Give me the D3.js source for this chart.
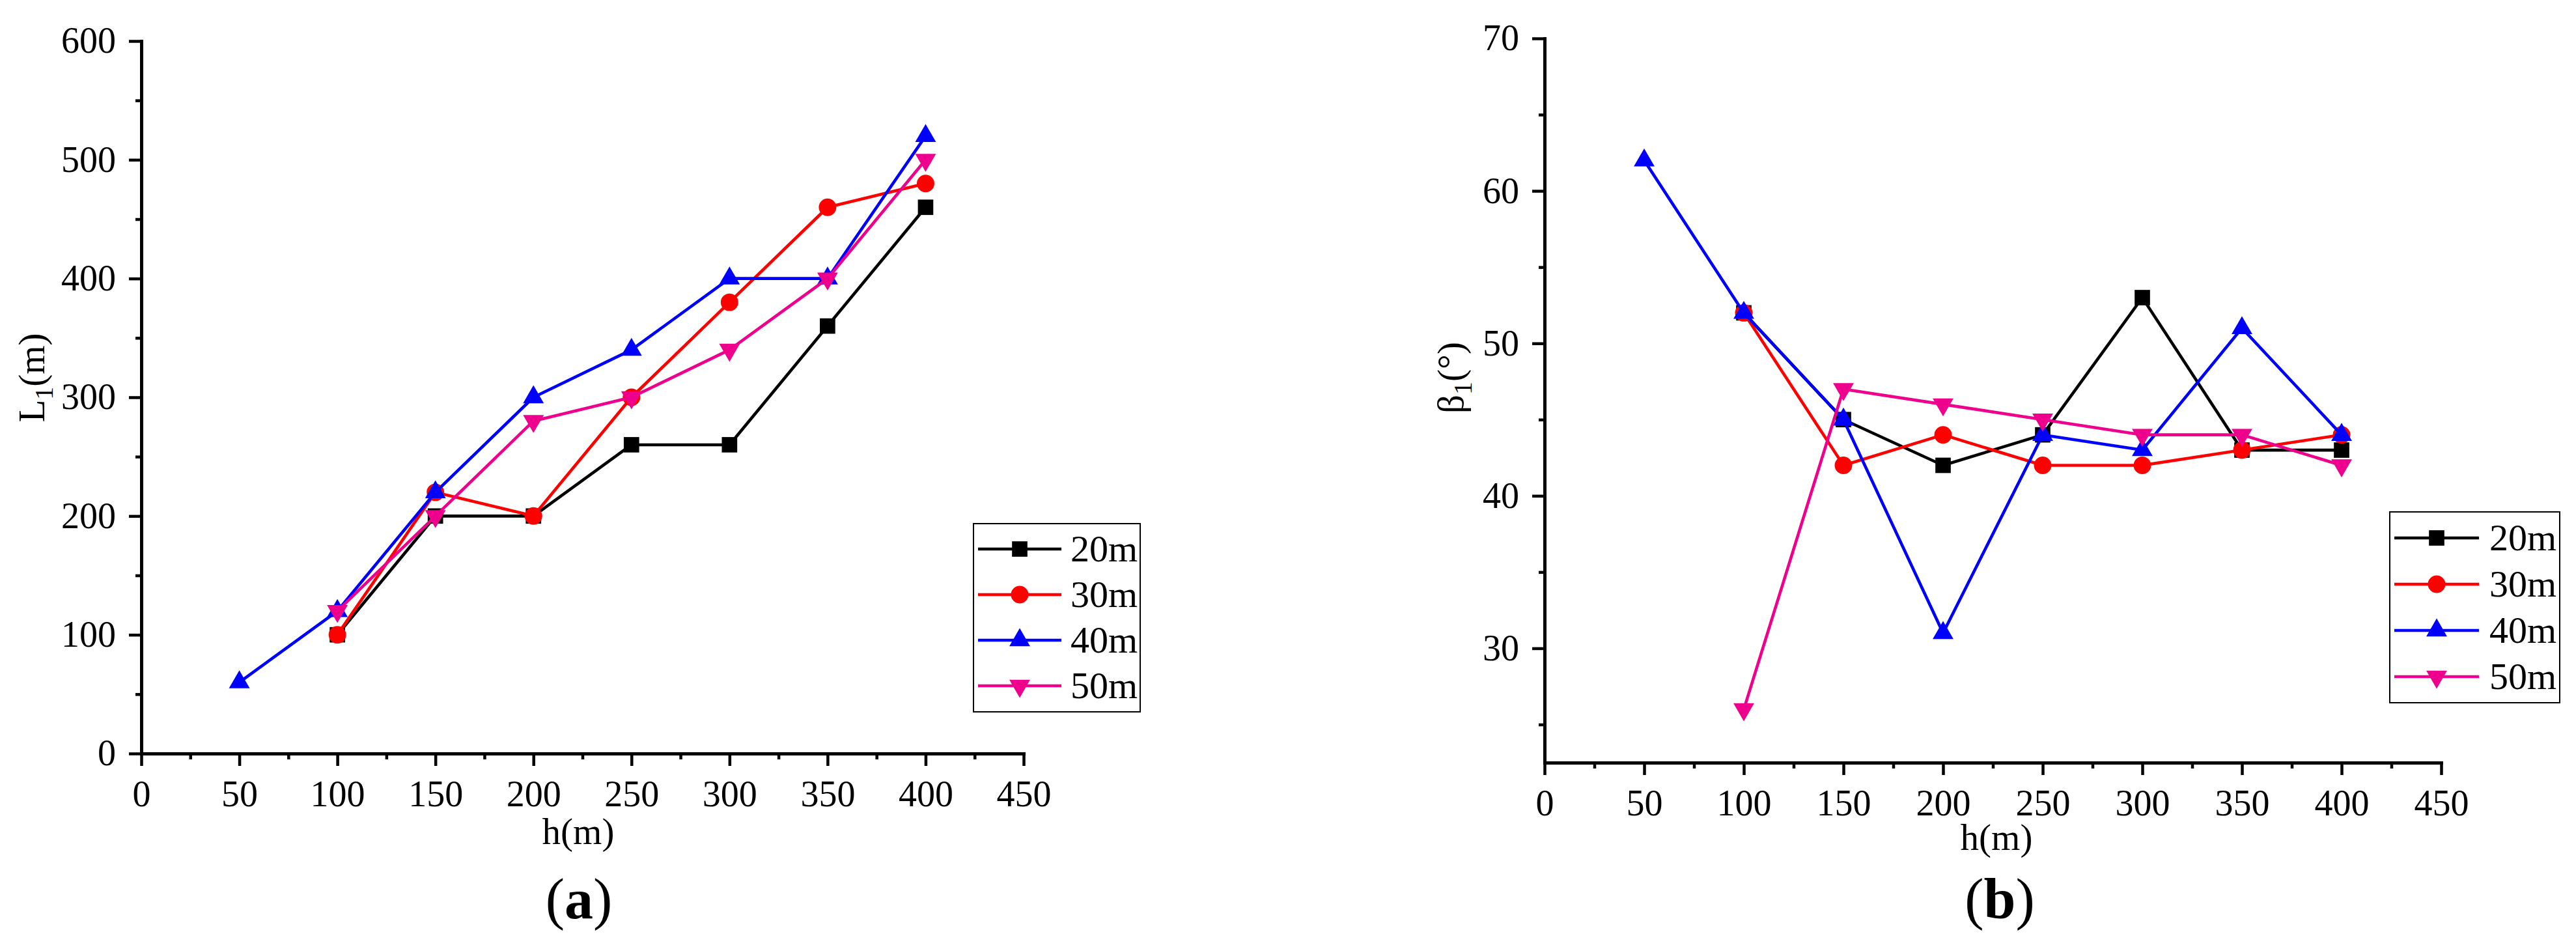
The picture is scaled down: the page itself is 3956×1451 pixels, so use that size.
<!DOCTYPE html>
<html>
<head>
<meta charset="utf-8">
<script src="https://cdn.jsdelivr.net/npm/d3@7"></script>
<style>
    html, body { margin: 0; padding: 0; background: #fff; }
    svg { display: block; }
    text { font-family: "Liberation Serif", "Times New Roman", serif; fill: #000; }
</style>
</head>
<body>
<script>
"use strict";
/*jslint browser: true*/
/*global d3*/

// heights h (m) at which the runs were made
var H_STEPS = [50, 100, 150, 200, 250, 300, 350, 400];
var SERIES_LABELS = ["20m", "30m", "40m", "50m"];

// (a) L1 (m), null = no run at that height
var L1_20M = [null, 100, 200, 200, 260, 260, 360, 460];
var L1_30M = [null, 100, 220, 200, 300, 380, 460, 480];
var L1_40M = [60, 120, 220, 300, 340, 400, 400, 520];
var L1_50M = [null, 120, 200, 280, 300, 340, 400, 500];

// (b) beta1 (deg)
var BETA1_20M = [null, 52, 45, 42, 44, 53, 43, 43];
var BETA1_30M = [null, 52, 42, 44, 42, 42, 43, 44];
var BETA1_40M = [62, 52, 45, 31, 44, 43, 51, 44];
var BETA1_50M = [null, 26, 47, 46, 45, 44, 44, 42];

var X_TICKS = [0, 50, 100, 150, 200, 250, 300, 350, 400, 450];
var X_MINOR = [25, 75, 125, 175, 225, 275, 325, 375, 425];
var L1_TICKS = [0, 100, 200, 300, 400, 500, 600];
var L1_MINOR = [50, 150, 250, 350, 450, 550];
var BETA1_TICKS = [30, 40, 50, 60, 70];
var BETA1_MINOR = [25, 35, 45, 55, 65];

var WIDTH = 3956,
    HEIGHT = 1451,
    FONT_TICK = 56,
    FONT_LABEL = 57,
    FONT_LEGEND = 58,
    FONT_PANEL = 88,
    AXIS_W = 5,
    LINE_W = 4.6,
    TICK_MAJOR = 19,
    TICK_MINOR = 9;

var STYLES = [
    { color: "#000000", shape: d3.symbolSquare, size: 560, rotate: 0 },
    { color: "#FF0000", shape: d3.symbolCircle, size: 570, rotate: 0 },
    { color: "#0000FF", shape: d3.symbolTriangle, size: 440, rotate: 0 },
    { color: "#EE008C", shape: d3.symbolTriangle, size: 440, rotate: 180 }
];

var svg = d3.select("body").append("svg")
    .attr("width", WIDTH)
    .attr("height", HEIGHT)
    .attr("viewBox", "0 0 " + WIDTH + " " + HEIGHT);

function symbolPath(style) {
    return d3.symbol().type(style.shape).size(style.size)();
}

function styleAxis(g) {
    g.select(".domain")
        .attr("stroke", "#000")
        .attr("stroke-width", AXIS_W)
        .attr("stroke-linecap", "square");
    g.selectAll(".tick line")
        .attr("stroke", "#000")
        .attr("stroke-width", 4.5);
    g.selectAll(".tick text")
        .attr("font-family", "Liberation Serif")
        .attr("font-size", FONT_TICK)
        .attr("fill", "#000");
}

/** One panel: axes, four series, legend box, axis titles and the (a)/(b) caption. */
function drawPanel(p) {
    var x = d3.scaleLinear().domain([0, 450]).range([p.left, p.right]),
        y = d3.scaleLinear().domain(p.yDomain).range([p.bottom, p.top]),
        g = svg.append("g"),
        line,
        legend,
        yLab,
        cap;

    // minor ticks first, so major ones sit on top
    g.append("g")
        .attr("transform", "translate(0," + p.bottom + ")")
        .call(d3.axisBottom(x).tickValues(X_MINOR).tickSize(TICK_MINOR).tickSizeOuter(0).tickFormat(""))
        .call(styleAxis);
    g.append("g")
        .attr("transform", "translate(" + p.left + ",0)")
        .call(d3.axisLeft(y).tickValues(p.yMinor).tickSize(TICK_MINOR).tickSizeOuter(0).tickFormat(""))
        .call(styleAxis);
    g.append("g")
        .attr("transform", "translate(0," + p.bottom + ")")
        .call(d3.axisBottom(x).tickValues(X_TICKS).tickSize(TICK_MAJOR).tickSizeOuter(0).tickPadding(22))
        .call(styleAxis);
    g.append("g")
        .attr("transform", "translate(" + p.left + ",0)")
        .call(d3.axisLeft(y).tickValues(p.yTicks).tickSize(TICK_MAJOR).tickSizeOuter(0).tickPadding(20))
        .call(styleAxis);

    line = d3.line()
        .defined(function (d) { return d.v !== null; })
        .x(function (d) { return x(d.h); })
        .y(function (d) { return y(d.v); });

    p.series.forEach(function (values, i) {
        var pts = H_STEPS.map(function (h, j) {
                return { h: h, v: values[j] };
            }),
            st = STYLES[i],
            sg = g.append("g").attr("class", "series");

        sg.append("path")
            .datum(pts)
            .attr("fill", "none")
            .attr("stroke", st.color)
            .attr("stroke-width", LINE_W)
            .attr("stroke-linejoin", "round")
            .attr("d", line);
        sg.selectAll("path.mark")
            .data(pts.filter(function (d) { return d.v !== null; }))
            .enter().append("path")
            .attr("class", "mark")
            .attr("fill", st.color)
            .attr("transform", function (d) {
                return "translate(" + x(d.h) + "," + y(d.v) + ") rotate(" + st.rotate + ")";
            })
            .attr("d", symbolPath(st));
    });

    // legend
    legend = svg.append("g").attr("transform", "translate(" + p.legend.x + "," + p.legend.y + ")");
    legend.append("rect")
        .attr("width", p.legend.w)
        .attr("height", p.legend.h)
        .attr("fill", "#fff")
        .attr("stroke", "#000")
        .attr("stroke-width", 2);
    SERIES_LABELS.forEach(function (name, i) {
        var st = STYLES[i],
            cy = p.legend.row0 + i * p.legend.step;
        legend.append("line")
            .attr("x1", 7).attr("x2", 7 + p.legend.lineLen)
            .attr("y1", cy).attr("y2", cy)
            .attr("stroke", st.color)
            .attr("stroke-width", LINE_W);
        legend.append("path")
            .attr("fill", st.color)
            .attr("transform", "translate(" + (7 + p.legend.lineLen / 2) + "," + cy + ") rotate(" + st.rotate + ")")
            .attr("d", symbolPath(st));
        legend.append("text")
            .attr("x", p.legend.textX)
            .attr("y", cy + 19)
            .attr("font-size", FONT_LEGEND)
            .text(name);
    });

    // x title
    svg.append("text")
        .attr("x", p.xTitleX)
        .attr("y", p.xTitleY)
        .attr("text-anchor", "middle")
        .attr("font-size", FONT_LABEL)
        .text("h(m)");

    // y title with subscript
    yLab = svg.append("text")
        .attr("transform", "translate(" + p.yTitleX + "," + p.yTitleY + ") rotate(-90)")
        .attr("text-anchor", "middle")
        .attr("font-size", FONT_LABEL);
    yLab.append("tspan").text(p.yName);
    yLab.append("tspan").attr("font-size", 40).attr("dy", 13).text("1");
    yLab.append("tspan").attr("dy", -13).text(p.yUnit);

    // panel caption, letter in bold
    cap = svg.append("text")
        .attr("x", p.capX)
        .attr("y", 1410)
        .attr("text-anchor", "middle")
        .attr("font-size", FONT_PANEL);
    cap.append("tspan").text("(");
    cap.append("tspan").attr("font-weight", "bold").text(p.caption);
    cap.append("tspan").text(")");
}

drawPanel({
    left: 217, right: 1572, top: 63, bottom: 1157,
    yDomain: [0, 600], yTicks: L1_TICKS, yMinor: L1_MINOR,
    series: [L1_20M, L1_30M, L1_40M, L1_50M],
    legend: { x: 1495, y: 804, w: 256, h: 289, row0: 39, step: 70, lineLen: 128, textX: 149 },
    xTitleX: 888, xTitleY: 1296,
    yTitleX: 68, yTitleY: 580, yName: "L", yUnit: "(m)",
    capX: 889, caption: "a"
});

drawPanel({
    left: 2372, right: 3749, top: 59, bottom: 1171,
    yDomain: [22.5, 70], yTicks: BETA1_TICKS, yMinor: BETA1_MINOR,
    series: [BETA1_20M, BETA1_30M, BETA1_40M, BETA1_50M],
    legend: { x: 3670, y: 786, w: 261, h: 293, row0: 40, step: 71, lineLen: 130, textX: 153 },
    xTitleX: 3066, xTitleY: 1305,
    yTitleX: 2247, yTitleY: 580, yName: "\u03b2", yUnit: "(\u00b0)",
    capX: 3071, caption: "b"
});
</script>
</body>
</html>
